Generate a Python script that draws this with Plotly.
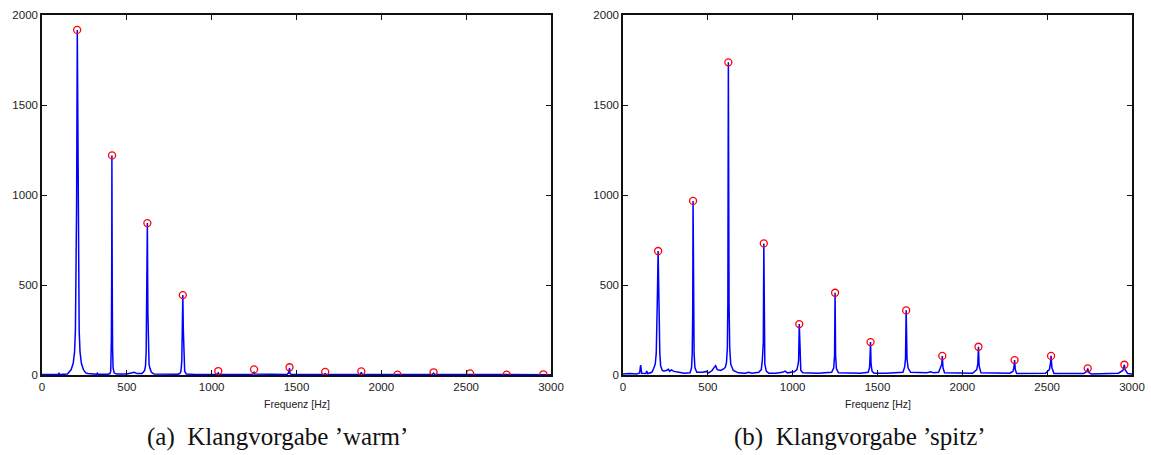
import plotly.graph_objects as go

# ---- data ----
harmonic_hz = [207, 413, 621, 830, 1039, 1250, 1459, 1669, 1882, 2095, 2308, 2523, 2739, 2955]
peak_amp_warm = [1917, 1220, 844, 444, 22, 31, 43, 17, 20, 2, 15, 9, 2, 4]
peak_amp_spitz = [689, 967, 1737, 731, 283, 457, 183, 359, 106, 157, 83, 106, 37, 57]

warm_spectrum = [
    (0, 3), (60, 3), (96, 4), (100, 9), (104, 3), (150, 5),
    (158, 15), (172, 30), (184, 65), (192, 130), (197, 250), (201, 500), (204, 950),
    (208, 1917), (212, 950), (215, 500), (219, 250), (224, 130), (232, 65), (244, 30),
    (258, 12), (270, 8), (290, 6), (322, 4), (326, 10), (330, 4), (390, 4),
    (400, 8), (405, 20), (407, 78), (409, 200), (411, 600), (412, 1220), (414, 500),
    (416, 150), (419, 40), (425, 12), (440, 5), (500, 5), (530, 10), (544, 15),
    (560, 8), (590, 8), (605, 25), (610, 50), (614, 130), (617, 350), (621, 844),
    (624, 350), (627, 140), (631, 60), (636, 37), (645, 15), (660, 6), (800, 4),
    (812, 8), (819, 20), (824, 80), (827, 250), (830, 444), (833, 250), (836, 80),
    (841, 20), (850, 6), (900, 3), (1030, 3), (1036, 6), (1039, 12), (1042, 4),
    (1240, 3), (1246, 8), (1250, 18), (1253, 5), (1445, 3), (1453, 12), (1459, 38),
    (1462, 8), (1470, 3), (1660, 3), (1669, 8), (1675, 3), (1875, 3), (1882, 15),
    (1888, 3), (2300, 3), (2308, 10), (2314, 3), (2516, 3), (2523, 6), (2529, 3),
    (3000, 2),
]

spitz_spectrum = [
    (0, 5), (40, 8), (80, 6), (98, 12), (104, 55), (110, 10), (135, 8), (140, 22),
    (146, 8), (170, 15), (180, 35), (190, 60), (196, 120), (200, 250), (203, 450),
    (207, 689), (210, 450), (213, 250), (217, 120), (222, 50), (232, 25), (240, 22),
    (255, 25), (268, 32), (275, 20), (285, 28), (300, 20), (330, 15), (360, 10),
    (395, 12), (404, 40), (408, 120), (411, 350), (413, 967), (416, 350), (419, 120),
    (424, 40), (435, 15), (470, 15), (490, 20), (505, 12), (525, 25), (540, 45),
    (546, 52), (555, 30), (575, 25), (595, 35), (604, 45), (610, 70), (615, 150),
    (618, 400), (621, 1737), (625, 400), (629, 150), (635, 60), (650, 25), (680, 12),
    (720, 10), (740, 15), (760, 10), (800, 15), (815, 30), (821, 80), (825, 150),
    (827, 180), (830, 731), (833, 200), (836, 60), (845, 20), (860, 10), (900, 10),
    (940, 15), (955, 22), (970, 12), (1010, 18), (1025, 30), (1032, 60), (1035, 80),
    (1039, 283), (1043, 80), (1048, 25), (1060, 12), (1150, 10), (1230, 15),
    (1242, 40), (1247, 110), (1250, 457), (1253, 110), (1258, 35), (1270, 12),
    (1400, 10), (1445, 15), (1453, 40), (1456, 100), (1459, 183), (1462, 60),
    (1468, 20), (1480, 10), (1550, 10), (1650, 15), (1660, 45), (1665, 90),
    (1669, 359), (1674, 90), (1680, 40), (1695, 15), (1790, 12), (1815, 18),
    (1830, 12), (1860, 15), (1874, 50), (1879, 60), (1882, 106), (1886, 40),
    (1895, 12), (2060, 10), (2085, 30), (2091, 60), (2095, 157), (2099, 50),
    (2110, 12), (2280, 10), (2298, 20), (2304, 40), (2308, 83), (2312, 30),
    (2320, 8), (2490, 10), (2513, 30), (2519, 60), (2523, 106), (2528, 40),
    (2540, 8), (2715, 8), (2734, 20), (2739, 37), (2744, 15), (2760, 6),
    (2920, 10), (2946, 25), (2951, 40), (2955, 57), (2959, 30), (2975, 8), (3000, 5),
]

x_ticks = [0, 500, 1000, 1500, 2000, 2500, 3000]
y_ticks = [0, 500, 1000, 1500, 2000]
x_title = "Frequenz [Hz]"
captions = ["(a)  Klangvorgabe ’warm’", "(b)  Klangvorgabe ’spitz’"]

# ---- figure ----
W, H = 1151, 455
BLUE = "rgb(0,0,255)"
RED = "rgb(255,0,0)"

fig = go.Figure()
panels = [(warm_spectrum, peak_amp_warm, "x", "y"), (spitz_spectrum, peak_amp_spitz, "x2", "y2")]
for spec, peaks, xa, ya in panels:
    fx = [p[0] for p in spec]
    fy = [p[1] for p in spec]
    fig.add_trace(go.Scatter(x=fx, y=fy, mode="lines", xaxis=xa, yaxis=ya,
                             line=dict(color=BLUE, width=1.5), showlegend=False,
                             hoverinfo="skip"))
    fig.add_trace(go.Scatter(x=harmonic_hz, y=peaks, mode="markers", xaxis=xa, yaxis=ya,
                             marker=dict(symbol="circle-open", size=7, color=RED,
                                         line=dict(width=1.3, color=RED)),
                             showlegend=False))

ydom = [1 - 375 / H, 1 - 15 / H]
xdoms = [[42 / W, 551 / W], [623 / W, 1132 / W]]

axis_common = dict(showline=True, linecolor="#111", linewidth=1.5, mirror="allticks",
                   ticks="inside", ticklen=5, tickwidth=1, tickcolor="#111",
                   showgrid=False, zeroline=False, automargin=False,
                   tickfont=dict(family="Liberation Sans, Arial, sans-serif", size=11.5, color="#222"))

layout = dict(width=W, height=H, margin=dict(l=0, r=0, t=0, b=0, autoexpand=False),
              paper_bgcolor="white", plot_bgcolor="white", showlegend=False)
for i, (xn, yn, anchor_x, anchor_y) in enumerate([("xaxis", "yaxis", "y", "x"),
                                                  ("xaxis2", "yaxis2", "y2", "x2")]):
    layout[xn] = dict(axis_common, domain=xdoms[i], range=[0, 3000], tickvals=x_ticks,
                      anchor=anchor_x)
    layout[yn] = dict(axis_common, domain=ydom, range=[0, 2000], tickvals=y_ticks,
                      anchor=anchor_y)
fig.update_layout(**layout)

annotations = []
for i, dom in enumerate(xdoms):
    cx = (dom[0] + dom[1]) / 2
    annotations.append(dict(text=x_title, xref="paper", yref="paper", x=cx, y=1 - 404 / H,
                            xanchor="center", yanchor="middle", showarrow=False,
                            font=dict(family="Liberation Sans, Arial, sans-serif", size=10.5, color="#222")))
cap_x = [277 / W, 860 / W]
for i, c in enumerate(captions):
    annotations.append(dict(text=c, xref="paper", yref="paper", x=cap_x[i], y=1 - 437 / H,
                            xanchor="center", yanchor="middle", showarrow=False,
                            font=dict(family="Liberation Serif, Times New Roman, serif", size=25, color="#111")))
fig.update_layout(annotations=annotations)

fig.write_html("out.html")
